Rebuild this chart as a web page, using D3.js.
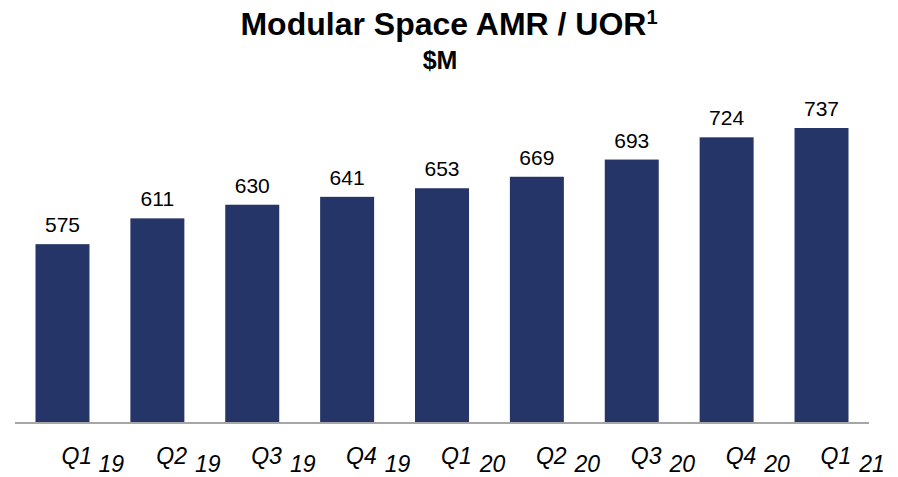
<!DOCTYPE html>
<html>
<head>
<meta charset="utf-8">
<script src="https://cdn.jsdelivr.net/npm/d3@7"></script>
<style>
  body { margin: 0; background: #fff; }
  svg { display: block; font-family: "Liberation Sans", Arial, sans-serif; }
</style>
</head>
<body>
<svg id="chart"></svg>
<script>
const quarters = ["Q1", "Q2", "Q3", "Q4", "Q1", "Q2", "Q3", "Q4", "Q1"];
const years = ["19", "19", "19", "19", "20", "20", "20", "20", "21"];
const values = [575, 611, 630, 641, 653, 669, 693, 724, 737];

const width = 898;
const height = 477;
const svg = d3.select("#chart").attr("width", width).attr("height", height);

const baseY = 422;
const ids = values.map((d, i) => i);

const x = d3
  .scaleBand()
  .domain(ids)
  .range([15, 869])
  .paddingInner(0.431)
  .paddingOuter(0.216);

// value axis is not zero based in the original
const y = d3.scaleLinear().domain([327, 737]).range([baseY, 128]);

// title
const title = svg
  .append("text")
  .attr("x", 449)
  .attr("y", 35)
  .attr("text-anchor", "middle")
  .attr("font-size", 32)
  .attr("font-weight", "bold");
title.append("tspan").text("Modular Space AMR / UOR");
title
  .append("tspan")
  .attr("font-size", 20)
  .attr("dy", -11)
  .text("1");

svg
  .append("text")
  .attr("x", 440)
  .attr("y", 69)
  .attr("text-anchor", "middle")
  .attr("font-size", 25)
  .attr("font-weight", "bold")
  .text("$M");

// bars
svg
  .append("g")
  .selectAll("rect")
  .data(ids)
  .enter()
  .append("rect")
  .attr("x", (i) => x(i))
  .attr("y", (i) => y(values[i]))
  .attr("width", x.bandwidth())
  .attr("height", (i) => baseY - y(values[i]))
  .attr("fill", "#263568");

// value labels
svg
  .append("g")
  .selectAll("text")
  .data(ids)
  .enter()
  .append("text")
  .attr("x", (i) => x(i) + x.bandwidth() / 2)
  .attr("y", (i) => y(values[i]) - 12)
  .attr("text-anchor", "middle")
  .attr("font-size", 21)
  .attr("fill", "#000")
  .text((i) => values[i]);

// baseline
svg
  .append("line")
  .attr("x1", x.range()[0])
  .attr("x2", x.range()[1])
  .attr("y1", baseY + 1)
  .attr("y2", baseY + 1)
  .attr("stroke", "#a6a6a6")
  .attr("stroke-width", 2);

// category labels
const labels = svg
  .append("g")
  .selectAll("text")
  .data(ids)
  .enter()
  .append("text")
  .attr("x", (i) => x(i) + x.bandwidth() / 2 - 1)
  .attr("y", 464)
  .attr("font-size", 23)
  .attr("font-style", "italic")
  .attr("fill", "#000");
labels.append("tspan").text((i) => quarters[i]);
labels
  .append("tspan")
  .attr("dx", 8)
  .attr("dy", 8)
  .text((i) => years[i]);
</script>
</body>
</html>
